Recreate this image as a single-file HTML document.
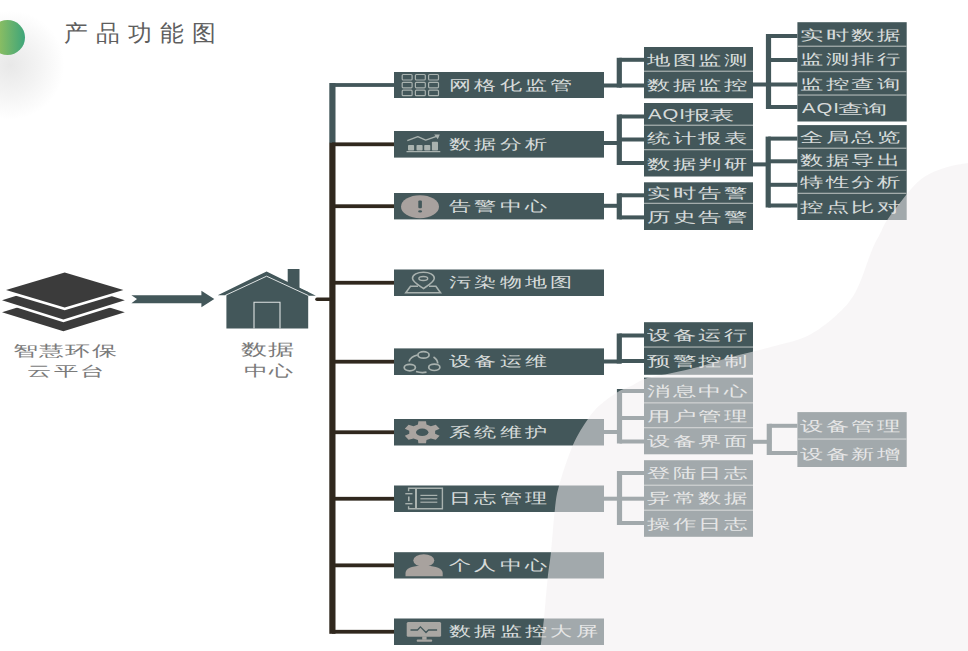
<!DOCTYPE html>
<html><head><meta charset="utf-8"><style>
html,body{margin:0;padding:0;background:#fff;width:968px;height:651px;overflow:hidden}
body{position:relative;font-family:"Liberation Sans",sans-serif}
.t{position:absolute;white-space:nowrap;transform-origin:0 0}
svg{position:absolute;left:0;top:0}
</style></head><body>
<div style="position:absolute;left:-45px;top:10px;width:110px;height:110px;border-radius:50%;background:radial-gradient(circle at 50% 50%,rgba(100,100,100,.15) 0%,rgba(120,120,120,.09) 35%,rgba(150,150,150,0) 70%)"></div>
<div style="position:absolute;left:-10px;top:19.5px;width:35px;height:35px;border-radius:50%;background:linear-gradient(90deg,#a6c65a,#3da57a)"></div>
<svg width="968" height="651" viewBox="0 0 968 651">
<rect x="329.3" y="83" width="6.2" height="60" fill="#43575a"/>
<rect x="329.3" y="142.8" width="6.2" height="491" fill="#30281e"/>
<rect x="332" y="83.1" width="62" height="3.8" fill="#43575a" />
<rect x="394" y="72" width="210" height="26" fill="#43575a" />
<rect x="332" y="142.4" width="62" height="3.8" fill="#30281e" />
<rect x="394" y="131" width="210" height="26.599999999999994" fill="#43575a" />
<rect x="332" y="204.29999999999998" width="62" height="3.8" fill="#30281e" />
<rect x="394" y="193" width="210" height="26.400000000000006" fill="#43575a" />
<rect x="332" y="280.85" width="62" height="3.8" fill="#30281e" />
<rect x="394" y="269.5" width="210" height="26.5" fill="#43575a" />
<rect x="332" y="359.8" width="62" height="3.8" fill="#30281e" />
<rect x="394" y="348.4" width="210" height="26.600000000000023" fill="#43575a" />
<rect x="332" y="430.35" width="62" height="3.8" fill="#30281e" />
<rect x="394" y="419" width="210" height="26.5" fill="#43575a" />
<rect x="332" y="496.85" width="62" height="3.8" fill="#30281e" />
<rect x="394" y="485.5" width="210" height="26.5" fill="#43575a" />
<rect x="332" y="563.45" width="62" height="3.8" fill="#30281e" />
<rect x="394" y="552.2" width="210" height="26.299999999999955" fill="#43575a" />
<rect x="332" y="629.85" width="62" height="3.8" fill="#30281e" />
<rect x="394" y="618.5" width="210" height="26.5" fill="#43575a" />
<line x1="317" y1="299.2" x2="331" y2="299.2" stroke="#30281e" stroke-width="3.6" stroke-linecap="round"/>
<rect x="604" y="83.5" width="17.299999999999955" height="4" fill="#43575a" />
<rect x="616.6999999999999" y="57.8" width="5.2" height="29.700000000000003" fill="#43575a" />
<rect x="619.3" y="57.8" width="24.700000000000045" height="4" fill="#43575a" />
<rect x="619.3" y="83.5" width="24.700000000000045" height="4" fill="#43575a" />
<rect x="644" y="47" width="109" height="51.3" fill="#43575a" />
<rect x="644" y="70.60000000000001" width="109" height="1.3" fill="#a3acab" />
<rect x="604" y="141" width="17.299999999999955" height="4" fill="#43575a" />
<rect x="616.6999999999999" y="114.5" width="5.2" height="50.5" fill="#43575a" />
<rect x="619.3" y="114.5" width="24.700000000000045" height="4" fill="#43575a" />
<rect x="619.3" y="137.5" width="24.700000000000045" height="4" fill="#43575a" />
<rect x="619.3" y="161" width="24.700000000000045" height="4" fill="#43575a" />
<rect x="644" y="103" width="109" height="73.5" fill="#43575a" />
<rect x="644" y="124.60000000000001" width="109" height="1.3" fill="#a3acab" />
<rect x="644" y="149.0" width="109" height="1.3" fill="#a3acab" />
<rect x="604" y="203.8" width="17.299999999999955" height="4" fill="#43575a" />
<rect x="616.6999999999999" y="193.3" width="5.2" height="26.099999999999994" fill="#43575a" />
<rect x="619.3" y="193.3" width="24.700000000000045" height="4" fill="#43575a" />
<rect x="619.3" y="215.4" width="24.700000000000045" height="4" fill="#43575a" />
<rect x="644" y="182.3" width="109" height="47.69999999999999" fill="#43575a" />
<rect x="644" y="202.70000000000002" width="109" height="1.3" fill="#a3acab" />
<rect x="604" y="359.5" width="17.299999999999955" height="4" fill="#43575a" />
<rect x="616.6999999999999" y="333.5" width="5.2" height="30.0" fill="#43575a" />
<rect x="619.3" y="333.5" width="24.700000000000045" height="4" fill="#43575a" />
<rect x="619.3" y="359" width="24.700000000000045" height="4" fill="#43575a" />
<rect x="644" y="322.2" width="109" height="52.60000000000002" fill="#43575a" />
<rect x="644" y="346.4" width="109" height="1.3" fill="#a3acab" />
<rect x="604" y="430" width="17.5" height="4" fill="#43575a" />
<rect x="616.9" y="389" width="5.2" height="54.5" fill="#43575a" />
<rect x="619.5" y="389" width="24.5" height="4" fill="#43575a" />
<rect x="619.5" y="416" width="24.5" height="4" fill="#43575a" />
<rect x="619.5" y="439.5" width="24.5" height="4" fill="#43575a" />
<rect x="644" y="377.6" width="109" height="76.69999999999999" fill="#43575a" />
<rect x="644" y="402.2" width="109" height="1.3" fill="#a3acab" />
<rect x="644" y="427.0" width="109" height="1.3" fill="#a3acab" />
<rect x="604" y="496.7" width="17.5" height="4" fill="#43575a" />
<rect x="616.9" y="471" width="5.2" height="54" fill="#43575a" />
<rect x="619.5" y="471" width="24.5" height="4" fill="#43575a" />
<rect x="619.5" y="496.7" width="24.5" height="4" fill="#43575a" />
<rect x="619.5" y="521" width="24.5" height="4" fill="#43575a" />
<rect x="644" y="460.2" width="109" height="76.59999999999997" fill="#43575a" />
<rect x="644" y="484.59999999999997" width="109" height="1.3" fill="#a3acab" />
<rect x="644" y="509.59999999999997" width="109" height="1.3" fill="#a3acab" />
<rect x="753" y="82.5" width="17.5" height="4" fill="#43575a" />
<rect x="765.9" y="34" width="5.2" height="75" fill="#43575a" />
<rect x="768.5" y="34" width="28.899999999999977" height="4" fill="#43575a" />
<rect x="768.5" y="58" width="28.899999999999977" height="4" fill="#43575a" />
<rect x="768.5" y="82.5" width="28.899999999999977" height="4" fill="#43575a" />
<rect x="768.5" y="105" width="28.899999999999977" height="4" fill="#43575a" />
<rect x="797.4" y="22.2" width="109.30000000000007" height="99.3" fill="#43575a" />
<rect x="797.4" y="45.6" width="109.30000000000007" height="1.3" fill="#a3acab" />
<rect x="797.4" y="70.9" width="109.30000000000007" height="1.3" fill="#a3acab" />
<rect x="797.4" y="94.4" width="109.30000000000007" height="1.3" fill="#a3acab" />
<rect x="753" y="162.4" width="17.200000000000045" height="4" fill="#43575a" />
<rect x="765.6" y="136.6" width="5.2" height="70.9" fill="#43575a" />
<rect x="768.2" y="136.6" width="29.199999999999932" height="4" fill="#43575a" />
<rect x="768.2" y="159.3" width="29.199999999999932" height="4" fill="#43575a" />
<rect x="768.2" y="182.8" width="29.199999999999932" height="4" fill="#43575a" />
<rect x="768.2" y="203.5" width="29.199999999999932" height="4" fill="#43575a" />
<rect x="797.4" y="125.1" width="109.30000000000007" height="94.9" fill="#43575a" />
<rect x="797.4" y="147.6" width="109.30000000000007" height="1.3" fill="#a3acab" />
<rect x="797.4" y="169.70000000000002" width="109.30000000000007" height="1.3" fill="#a3acab" />
<rect x="797.4" y="192.70000000000002" width="109.30000000000007" height="1.3" fill="#a3acab" />
<rect x="753" y="439.8" width="18.299999999999955" height="4" fill="#43575a" />
<rect x="766.6999999999999" y="423.8" width="5.2" height="31.19999999999999" fill="#43575a" />
<rect x="769.3" y="423.8" width="28.100000000000023" height="4" fill="#43575a" />
<rect x="769.3" y="451" width="28.100000000000023" height="4" fill="#43575a" />
<rect x="797.4" y="412.1" width="109.30000000000007" height="54.89999999999998" fill="#43575a" />
<rect x="797.4" y="438.4" width="109.30000000000007" height="1.3" fill="#a3acab" />
<rect x="402.2" y="74.5" width="9.9" height="5.5" rx="1" fill="none" stroke="#a9b2af" stroke-width="1.2"/>
<rect x="415.4" y="74.5" width="9.9" height="5.5" rx="1" fill="none" stroke="#a9b2af" stroke-width="1.2"/>
<rect x="428.59999999999997" y="74.5" width="9.9" height="5.5" rx="1" fill="none" stroke="#a9b2af" stroke-width="1.2"/>
<rect x="402.2" y="82.35" width="9.9" height="5.5" rx="1" fill="none" stroke="#a9b2af" stroke-width="1.2"/>
<rect x="415.4" y="82.35" width="9.9" height="5.5" rx="1" fill="none" stroke="#a9b2af" stroke-width="1.2"/>
<rect x="428.59999999999997" y="82.35" width="9.9" height="5.5" rx="1" fill="none" stroke="#a9b2af" stroke-width="1.2"/>
<rect x="402.2" y="90.2" width="9.9" height="5.5" rx="1" fill="none" stroke="#a9b2af" stroke-width="1.2"/>
<rect x="415.4" y="90.2" width="9.9" height="5.5" rx="1" fill="none" stroke="#a9b2af" stroke-width="1.2"/>
<rect x="428.59999999999997" y="90.2" width="9.9" height="5.5" rx="1" fill="none" stroke="#a9b2af" stroke-width="1.2"/>
<path d="M406.5 151.6 H440.3" stroke="#a9b2af" stroke-width="1.2" fill="none"/>
<rect x="408" y="145" width="6.1" height="5.599999999999994" rx="0.8" fill="#a9b2af"/>
<rect x="416.5" y="145" width="6.1" height="5.599999999999994" rx="0.8" fill="#a9b2af"/>
<rect x="424.2" y="145" width="6.1" height="5.599999999999994" rx="0.8" fill="#a9b2af"/>
<rect x="431.9" y="141.8" width="6.1" height="8.799999999999983" rx="0.8" fill="#a9b2af"/>
<path d="M407.3 140.6 L417.8 136.6 L425.7 140.1 L436.5 136.3" stroke="#a9b2af" stroke-width="1.3" fill="none" stroke-linejoin="round"/>
<path d="M434.2 134.6 L439.8 134.6 L437.8 139.2 Z" fill="#a9b2af"/>
<ellipse cx="420" cy="206.7" rx="19" ry="11.5" fill="#a8a19e"/>
<rect x="418.3" y="200.5" width="3.6" height="7.7" rx="1" fill="#43575a"/>
<ellipse cx="420.1" cy="211.4" rx="2" ry="1.1" fill="#43575a"/>
<path d="M423.5 288.5 C419 285.5 412.5 282 412.5 278.3 C412.5 274.5 417.5 272.3 423.4 272.3 C429.3 272.3 434.3 274.5 434.3 278.3 C434.3 282 428 285.5 423.5 288.5 Z" fill="none" stroke="#a9b2af" stroke-width="1.6"/>
<ellipse cx="423.3" cy="278.5" rx="4.4" ry="2.0" fill="none" stroke="#a9b2af" stroke-width="1.4"/>
<path d="M418 286.2 H410.5 L405.8 292.7 H440.5 L435.9 286.2 H429" fill="none" stroke="#a9b2af" stroke-width="1.6"/>
<ellipse cx="423.5" cy="354.9" rx="5.6" ry="3.2" fill="none" stroke="#a9b2af" stroke-width="1.7"/>
<ellipse cx="409.8" cy="367.6" rx="5.6" ry="3.2" fill="none" stroke="#a9b2af" stroke-width="1.7"/>
<ellipse cx="434.3" cy="367.3" rx="5.6" ry="3.2" fill="none" stroke="#a9b2af" stroke-width="1.7"/>
<path d="M417.5 355 C413 356 410 358.5 409 361.5" fill="none" stroke="#a9b2af" stroke-width="1.7"/>
<path d="M433.5 357 C436 358.5 437.5 360.5 437.8 363.5" fill="none" stroke="#a9b2af" stroke-width="1.7"/>
<path d="M416 371.5 C419 372.5 423 372.8 426.5 372.2" fill="none" stroke="#a9b2af" stroke-width="1.7"/>
<path d="M417.91 424.61 L418.40 421.25 L426.00 421.25 L426.49 424.61 L430.84 426.16 L435.80 424.74 L439.60 428.81 L435.13 430.75 L435.13 433.85 L439.60 435.79 L435.80 439.86 L430.84 438.44 L426.49 439.99 L426.00 443.35 L418.40 443.35 L417.91 439.99 L413.56 438.44 L408.60 439.86 L404.80 435.79 L409.27 433.85 L409.27 430.75 L404.80 428.81 L408.60 424.74 L413.56 426.16 Z" fill="#a9a4a0"/>
<ellipse cx="422.2" cy="432.3" rx="6.2" ry="3.7" fill="#43575a"/>
<path d="M408.6 491.3 V488.3 H442.4 V508.8 H408.6 V506.3" fill="none" stroke="#a9b2af" stroke-width="1.4"/>
<path d="M416 488.3 V508.8" stroke="#a9b2af" stroke-width="2"/>
<path d="M420.4 495.4 H437.3" stroke="#a9b2af" stroke-width="1.2"/>
<path d="M420.4 498.8 H437.3" stroke="#a9b2af" stroke-width="1.2"/>
<path d="M420.4 502.2 H437.3" stroke="#a9b2af" stroke-width="1.2"/>
<path d="M405.3 493.7 H412.5" stroke="#a9b2af" stroke-width="1.4"/>
<path d="M405.3 503.7 H412.5" stroke="#a9b2af" stroke-width="1.4"/>
<path d="M408.8 496.6 V501.2" stroke="#a9b2af" stroke-width="1.6"/>
<ellipse cx="423.8" cy="560.5" rx="10.5" ry="6.2" fill="#a8a29e"/>
<path d="M405.5 576.3 V573 C405.5 568.5 412 566 420 566 H427.5 C435.5 566 442.7 568.5 442.7 573 V576.3 Z" fill="#a8a29e"/>
<rect x="406.7" y="621.9" width="34.4" height="14.9" rx="1.5" fill="#a9a7a3"/>
<path d="M410.5 630 H417.5 L420.4 626.9 L426 632.5 L428.5 630 H437.1" fill="none" stroke="#43575a" stroke-width="1.3"/>
<rect x="422.2" y="636.5" width="4.4" height="3.2" fill="#a9a7a3"/>
<rect x="416.7" y="639.5" width="15.5" height="2.3" rx="1" fill="#a9a7a3"/>

<path d="M2.00 312.30 L63.40 293.30 L124.80 312.30 L63.40 331.30 Z" fill="#3b3b3b"/>
<path d="M-6.67 300.20 L63.40 278.17 L133.47 300.20 L63.40 322.23 Z" fill="#fff"/>
<path d="M2.00 300.20 L63.40 280.90 L124.80 300.20 L63.40 319.50 Z" fill="#3b3b3b"/>
<path d="M-3.05 290.00 L64.70 269.69 L132.45 290.00 L64.70 310.31 Z" fill="#fff"/>
<path d="M6.00 290.00 L64.70 272.40 L123.40 290.00 L64.70 307.60 Z" fill="#3b3b3b"/>

<path d="M131.4 295.2 H201.4 V290.7 L214.3 299 L201.4 307.3 V303.2 H131.4 L137 299 Z" fill="#43575a"/>

<rect x="287.7" y="269" width="11.8" height="20" fill="#43575a"/>
<path d="M226.4 292 L266.6 274 L308.2 292 V328.6 H226.4 Z" fill="#43575a"/>
<path d="M217.7 295.2 L266.6 271.4 L315.9 295.7 L308 295.7 L266.6 276.5 L225 295.2 Z" fill="#43575a"/>
<path d="M225.5 295.3 L266.6 276.2 L308.5 295.6" fill="none" stroke="#dfe3e3" stroke-width="1"/>
<path d="M254 328.6 V302.3 H280 V328.6" fill="none" stroke="#dfe3e3" stroke-width="1.1"/>

</svg>
<div class="t" style="left:449.39px;top:77.52px;font-size:14.46px;line-height:14.46px;letter-spacing:2.07px;color:rgba(247,248,246,0.84);transform:scaleX(1.579)">网格化监管</div>
<div class="t" style="left:449.39px;top:136.82px;font-size:14.46px;line-height:14.46px;letter-spacing:2.07px;color:rgba(247,248,246,0.84);transform:scaleX(1.579)">数据分析</div>
<div class="t" style="left:449.39px;top:198.72px;font-size:14.46px;line-height:14.46px;letter-spacing:2.07px;color:rgba(247,248,246,0.84);transform:scaleX(1.579)">告警中心</div>
<div class="t" style="left:449.39px;top:275.27px;font-size:14.46px;line-height:14.46px;letter-spacing:2.07px;color:rgba(247,248,246,0.84);transform:scaleX(1.579)">污染物地图</div>
<div class="t" style="left:449.39px;top:354.22px;font-size:14.46px;line-height:14.46px;letter-spacing:2.07px;color:rgba(247,248,246,0.84);transform:scaleX(1.579)">设备运维</div>
<div class="t" style="left:449.39px;top:424.77px;font-size:14.46px;line-height:14.46px;letter-spacing:2.07px;color:rgba(247,248,246,0.84);transform:scaleX(1.579)">系统维护</div>
<div class="t" style="left:449.39px;top:491.27px;font-size:14.46px;line-height:14.46px;letter-spacing:2.07px;color:rgba(247,248,246,0.84);transform:scaleX(1.579)">日志管理</div>
<div class="t" style="left:449.39px;top:557.87px;font-size:14.46px;line-height:14.46px;letter-spacing:2.07px;color:rgba(247,248,246,0.84);transform:scaleX(1.579)">个人中心</div>
<div class="t" style="left:449.39px;top:624.27px;font-size:14.46px;line-height:14.46px;letter-spacing:2.07px;color:rgba(247,248,246,0.84);transform:scaleX(1.579)">数据监控大屏</div>
<div class="t" style="left:646.84px;top:52.63px;font-size:14.35px;line-height:14.35px;letter-spacing:1.31px;color:rgba(247,248,246,0.84);transform:scaleX(1.667)">地图监测</div>
<div class="t" style="left:646.84px;top:78.28px;font-size:14.35px;line-height:14.35px;letter-spacing:1.31px;color:rgba(247,248,246,0.84);transform:scaleX(1.667)">数据监控</div>
<div class="t" style="left:648.36px;top:108.19px;font-size:13.72px;line-height:13.72px;letter-spacing:0.6px;color:rgba(247,248,246,0.84);transform:scaleX(1.481)">AQI</div>
<div class="t" style="left:684.96px;top:107.72px;font-size:14.46px;line-height:14.46px;letter-spacing:-0.60px;color:rgba(247,248,246,0.84);transform:scaleX(1.805)">报表</div>
<div class="t" style="left:646.84px;top:130.93px;font-size:14.35px;line-height:14.35px;letter-spacing:1.31px;color:rgba(247,248,246,0.84);transform:scaleX(1.667)">统计报表</div>
<div class="t" style="left:646.84px;top:156.58px;font-size:14.35px;line-height:14.35px;letter-spacing:1.31px;color:rgba(247,248,246,0.84);transform:scaleX(1.667)">数据判研</div>
<div class="t" style="left:646.84px;top:186.33px;font-size:14.35px;line-height:14.35px;letter-spacing:1.31px;color:rgba(247,248,246,0.84);transform:scaleX(1.667)">实时告警</div>
<div class="t" style="left:646.84px;top:210.18px;font-size:14.35px;line-height:14.35px;letter-spacing:1.31px;color:rgba(247,248,246,0.84);transform:scaleX(1.667)">历史告警</div>
<div class="t" style="left:646.84px;top:328.13px;font-size:14.35px;line-height:14.35px;letter-spacing:1.31px;color:rgba(247,248,246,0.84);transform:scaleX(1.667)">设备运行</div>
<div class="t" style="left:646.84px;top:354.43px;font-size:14.35px;line-height:14.35px;letter-spacing:1.31px;color:rgba(247,248,246,0.84);transform:scaleX(1.667)">预警控制</div>
<div class="t" style="left:646.84px;top:383.73px;font-size:14.35px;line-height:14.35px;letter-spacing:1.31px;color:rgba(247,248,246,0.84);transform:scaleX(1.667)">消息中心</div>
<div class="t" style="left:646.84px;top:408.73px;font-size:14.35px;line-height:14.35px;letter-spacing:1.31px;color:rgba(247,248,246,0.84);transform:scaleX(1.667)">用户管理</div>
<div class="t" style="left:646.84px;top:434.48px;font-size:14.35px;line-height:14.35px;letter-spacing:1.31px;color:rgba(247,248,246,0.84);transform:scaleX(1.667)">设备界面</div>
<div class="t" style="left:646.84px;top:466.23px;font-size:14.35px;line-height:14.35px;letter-spacing:1.31px;color:rgba(247,248,246,0.84);transform:scaleX(1.667)">登陆日志</div>
<div class="t" style="left:646.84px;top:491.23px;font-size:14.35px;line-height:14.35px;letter-spacing:1.31px;color:rgba(247,248,246,0.84);transform:scaleX(1.667)">异常数据</div>
<div class="t" style="left:646.84px;top:517.03px;font-size:14.35px;line-height:14.35px;letter-spacing:1.31px;color:rgba(247,248,246,0.84);transform:scaleX(1.667)">操作日志</div>
<div class="t" style="left:800.24px;top:27.73px;font-size:14.35px;line-height:14.35px;letter-spacing:1.31px;color:rgba(247,248,246,0.84);transform:scaleX(1.667)">实时数据</div>
<div class="t" style="left:800.24px;top:52.38px;font-size:14.35px;line-height:14.35px;letter-spacing:1.31px;color:rgba(247,248,246,0.84);transform:scaleX(1.667)">监测排行</div>
<div class="t" style="left:800.24px;top:76.78px;font-size:14.35px;line-height:14.35px;letter-spacing:1.31px;color:rgba(247,248,246,0.84);transform:scaleX(1.667)">监控查询</div>
<div class="t" style="left:801.76px;top:102.34px;font-size:13.72px;line-height:13.72px;letter-spacing:0.6px;color:rgba(247,248,246,0.84);transform:scaleX(1.481)">AQI</div>
<div class="t" style="left:838.36px;top:101.87px;font-size:14.46px;line-height:14.46px;letter-spacing:-0.60px;color:rgba(247,248,246,0.84);transform:scaleX(1.805)">查询</div>
<div class="t" style="left:800.24px;top:130.18px;font-size:14.35px;line-height:14.35px;letter-spacing:1.31px;color:rgba(247,248,246,0.84);transform:scaleX(1.667)">全局总览</div>
<div class="t" style="left:800.24px;top:152.78px;font-size:14.35px;line-height:14.35px;letter-spacing:1.31px;color:rgba(247,248,246,0.84);transform:scaleX(1.667)">数据导出</div>
<div class="t" style="left:800.24px;top:175.33px;font-size:14.35px;line-height:14.35px;letter-spacing:1.31px;color:rgba(247,248,246,0.84);transform:scaleX(1.667)">特性分析</div>
<div class="t" style="left:800.24px;top:200.18px;font-size:14.35px;line-height:14.35px;letter-spacing:1.31px;color:rgba(247,248,246,0.84);transform:scaleX(1.667)">控点比对</div>
<div class="t" style="left:800.24px;top:419.08px;font-size:14.35px;line-height:14.35px;letter-spacing:1.31px;color:rgba(247,248,246,0.84);transform:scaleX(1.667)">设备管理</div>
<div class="t" style="left:800.24px;top:446.53px;font-size:14.35px;line-height:14.35px;letter-spacing:1.31px;color:rgba(247,248,246,0.84);transform:scaleX(1.667)">设备新增</div>
<div class="t" style="left:13.00px;top:343.10px;font-size:15.00px;line-height:15.00px;letter-spacing:0.72px;color:#7a7a7a;transform:scaleX(1.667)">智慧环保</div>
<div class="t" style="left:26.50px;top:363.53px;font-size:14.35px;line-height:14.35px;letter-spacing:1.26px;color:#7a7a7a;transform:scaleX(1.742)">云平台</div>
<div class="t" style="left:241.38px;top:342.27px;font-size:15.65px;line-height:15.65px;letter-spacing:0.52px;color:#7a7a7a;transform:scaleX(1.632)">数据</div>
<div class="t" style="left:243.52px;top:362.89px;font-size:15.33px;line-height:15.33px;letter-spacing:0.47px;color:#7a7a7a;transform:scaleX(1.596)">中心</div>
<div class="t" style="left:63.57px;top:22.90px;font-size:22.61px;line-height:22.61px;letter-spacing:7.96px;color:#5e5e5e;transform:scaleX(1.034)">产品功能图</div>
<svg width="968" height="651" viewBox="0 0 968 651" style="z-index:5">
<path d="M968 163 C965.2 163.5 956.6 164.6 951 166 C945.4 167.4 939.5 169.4 934.6 171.5 C929.7 173.6 926.0 175.4 921.7 178.8 C917.4 182.2 914.5 185.0 908.8 191.8 C903.1 198.6 892.4 212.5 887.6 219.4 C882.9 226.3 882.9 228.1 880.3 233.2 C877.7 238.3 876.1 240.2 872 250 C867.9 259.8 861.7 280.8 855.7 291.8 C849.7 302.8 843.8 308.5 835.8 315.8 C827.8 323.1 817.8 330.8 807.8 335.8 C797.8 340.8 784.8 343.2 775.8 345.8 C766.8 348.4 761.5 349.5 753.5 351.5 C745.5 353.5 736.6 355.5 727.7 358 C718.8 360.5 709.3 364.1 700 366.6 C690.7 369.1 681.0 371.0 672 373 C663.0 375.0 652.8 376.2 646 378.4 C639.2 380.6 635.8 383.7 631 386 C626.2 388.3 622.2 389.2 617 392.4 C611.8 395.6 604.8 400.6 600 405 C595.2 409.4 592.5 412.3 588 419 C583.5 425.7 577.8 433.9 573 445 C568.2 456.1 562.1 474.5 559 485.7 C555.9 496.9 555.9 500.9 554.6 512 C553.3 523.0 552.2 540.9 551 552 C549.8 563.1 548.8 567.6 547.6 578.7 C546.4 589.8 545.3 606.4 544 618.4 C542.7 630.4 540.7 645.6 540 651 L968 651 Z" fill="rgba(242,238,240,0.545)"/>
</svg>
</body></html>
